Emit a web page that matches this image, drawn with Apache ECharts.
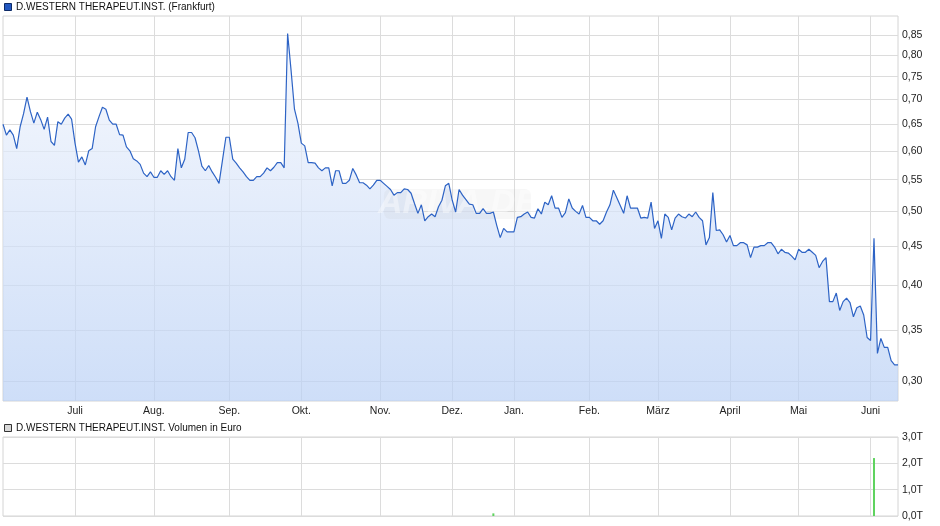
<!DOCTYPE html>
<html>
<head>
<meta charset="utf-8">
<script src="https://cdn.jsdelivr.net/npm/echarts@6/dist/echarts.min.js"></script>
<style>
html,body{margin:0;padding:0;background:#fff;}
#chart{width:940px;height:526px;}
</style>
</head>
<body>
<div id="chart"></div>
<script>
// ---- data ----
const startDate = '2024-05-31';
const endDate = '2025-06-12';
const exchangeHolidays = ['2024-12-24','2024-12-25','2024-12-26','2024-12-31','2025-01-01','2025-04-18','2025-04-21','2025-05-01'];
const monthNames = ['Jan.','Feb.','März','April','Mai','Juni','Juli','Aug.','Sep.','Okt.','Nov.','Dez.'];
const priceTicks = [0.30,0.35,0.40,0.45,0.50,0.55,0.60,0.65,0.70,0.75,0.80,0.85];
const volumeTicks = [0,1000,2000,3000];
const priceValues = [
0.650,0.629,0.639,0.629,0.604,0.645,0.671,0.705,0.675,0.652,
0.674,0.659,0.640,0.664,0.617,0.610,0.655,0.650,0.662,0.670,
0.660,0.614,0.580,0.589,0.575,0.600,0.604,0.645,0.665,0.684,
0.680,0.658,0.650,0.650,0.630,0.629,0.607,0.600,0.586,0.582,
0.576,0.561,0.555,0.563,0.554,0.554,0.565,0.559,0.565,0.555,
0.549,0.604,0.570,0.585,0.634,0.634,0.624,0.600,0.573,0.565,
0.574,0.563,0.554,0.544,0.583,0.625,0.625,0.585,0.578,0.570,
0.563,0.555,0.549,0.549,0.555,0.555,0.561,0.570,0.565,0.571,
0.579,0.579,0.570,0.854,0.765,0.680,0.652,0.614,0.609,0.579,
0.579,0.578,0.570,0.565,0.570,0.570,0.540,0.565,0.565,0.544,
0.544,0.549,0.569,0.558,0.545,0.545,0.541,0.535,0.541,0.549,
0.549,0.544,0.539,0.534,0.525,0.529,0.529,0.535,0.534,0.528,
0.512,0.497,0.510,0.486,0.492,0.496,0.492,0.507,0.517,0.540,
0.544,0.517,0.499,0.534,0.525,0.518,0.511,0.510,0.497,0.497,
0.504,0.497,0.497,0.499,0.479,0.462,0.475,0.470,0.470,0.470,
0.491,0.492,0.496,0.499,0.491,0.490,0.504,0.496,0.514,0.510,
0.524,0.505,0.505,0.491,0.498,0.519,0.505,0.500,0.496,0.509,
0.491,0.491,0.486,0.486,0.481,0.486,0.499,0.510,0.533,0.521,
0.509,0.497,0.524,0.505,0.505,0.505,0.490,0.491,0.490,0.514,
0.475,0.486,0.461,0.496,0.491,0.473,0.490,0.496,0.492,0.490,
0.496,0.492,0.499,0.491,0.486,0.452,0.462,0.529,0.472,0.473,
0.466,0.456,0.465,0.451,0.451,0.455,0.455,0.452,0.435,0.449,
0.449,0.451,0.451,0.455,0.455,0.449,0.440,0.446,0.442,0.441,
0.437,0.432,0.446,0.442,0.442,0.446,0.442,0.438,0.422,0.430,
0.435,0.381,0.381,0.391,0.371,0.381,0.385,0.380,0.364,0.374,
0.376,0.366,0.342,0.339,0.461,0.326,0.341,0.332,0.332,0.319,
0.315,0.315
];
const volumeDates = ['2024-12-18','2025-06-03'];
const volumeValues = [100, 2200];

// ---- build trading-day categories ----
function tradingDays(start, end, holidays) {
  const out = [];
  let t = Date.parse(start + 'T00:00:00Z');
  const e = Date.parse(end + 'T00:00:00Z');
  while (t <= e) {
    const d = new Date(t);
    const wd = d.getUTCDay();
    const s = d.toISOString().slice(0, 10);
    if (wd !== 0 && wd !== 6 && holidays.indexOf(s) < 0) out.push(s);
    t += 86400000;
  }
  return out;
}
const categories = tradingDays(startDate, endDate, exchangeHolidays);
const monthOf = s => +s.slice(5, 7);
const isMonthStart = (i) => i > 5 && monthOf(categories[i]) !== monthOf(categories[i - 1]);

const FONT = "'Liberation Sans', Arial, sans-serif";
const GRID_COLOR = '#dcdcdc';

const chart = echarts.init(document.getElementById('chart'), null, {renderer: 'canvas'});
chart.setOption({
  animation: false,
  backgroundColor: '#ffffff',
  textStyle: {fontFamily: FONT},
  grid: [
    {left: 3, top: 16, width: 895, height: 385, show: true, borderColor: '#d4d4d4', borderWidth: 1, containLabel: false},
    {left: 3, top: 437, width: 895, height: 79, show: true, borderColor: '#d4d4d4', borderWidth: 1, containLabel: false}
  ],
  xAxis: [
    {
      type: 'category', gridIndex: 0, data: categories, boundaryGap: false,
      axisLine: {show: false}, axisTick: {show: false},
      axisLabel: {
        interval: (i) => isMonthStart(i),
        formatter: (v) => monthNames[monthOf(v) - 1],
        color: '#222', fontSize: 10.5, fontFamily: FONT, margin: 5
      },
      splitLine: {show: true, interval: (i) => isMonthStart(i), lineStyle: {color: GRID_COLOR, width: 1}}
    },
    {
      type: 'category', gridIndex: 1, data: categories, boundaryGap: false,
      axisLine: {show: false}, axisTick: {show: false}, axisLabel: {show: false},
      splitLine: {show: true, interval: (i) => isMonthStart(i), lineStyle: {color: GRID_COLOR, width: 1}}
    }
  ],
  yAxis: [
    {
      type: 'log', gridIndex: 0, position: 'right', min: 0.2825, max: 0.9003, logBase: 10,
      axisLine: {show: false},
      axisTick: {show: false, customValues: priceTicks},
      axisLabel: {
        customValues: priceTicks,
        formatter: (v) => v.toFixed(2).replace('.', ','),
        color: '#222', fontSize: 10.5, fontFamily: FONT, margin: 4
      },
      splitLine: {show: true, lineStyle: {color: GRID_COLOR, width: 1}}
    },
    {
      type: 'value', gridIndex: 1, position: 'right', min: 0, max: 3000, interval: 1000,
      axisLine: {show: false}, axisTick: {show: false},
      axisLabel: {
        formatter: (v) => (v / 1000).toFixed(1).replace('.', ',') + 'T',
        color: '#222', fontSize: 10.5, fontFamily: FONT, margin: 4
      },
      splitLine: {show: true, lineStyle: {color: GRID_COLOR, width: 1}}
    }
  ],
  graphic: [
    {type: 'rect', left: 4, top: 3, shape: {width: 7, height: 7}, style: {fill: '#2257c0', stroke: '#0d2a66', lineWidth: 1}, z: 10},
    {type: 'text', left: 16, top: 2, style: {text: 'D.WESTERN THERAPEUT.INST. (Frankfurt)', fill: '#111', font: '10px ' + FONT}, z: 10},
    {type: 'rect', left: 4, top: 424, shape: {width: 7, height: 7}, style: {fill: '#d8d8d8', stroke: '#333', lineWidth: 1}, z: 10},
    {type: 'text', left: 16, top: 423, style: {text: 'D.WESTERN THERAPEUT.INST. Volumen in Euro', fill: '#111', font: '10px ' + FONT}, z: 10},
    {type: 'group', left: 378, top: 187, z: 3, children: [
      {type: 'rect', shape: {x: 0, y: 0, width: 147, height: 30, r: 6}, style: {fill: 'rgba(190,190,190,0.13)'}, z: 3},
      {type: 'text', x: 74, y: 15, style: {text: 'ARIVA.DE', fill: 'rgba(255,255,255,0.4)', font: 'italic bold 34px ' + FONT, align: 'center', verticalAlign: 'middle'}, z: 3}
    ]}
  ],
  series: [
    {
      type: 'line', xAxisIndex: 0, yAxisIndex: 0, data: priceValues, z: 1,
      showSymbol: false, symbol: 'none',
      lineStyle: {width: 0},
      areaStyle: {origin: 'start', color: new echarts.graphic.LinearGradient(0, 0, 0, 1, [
        {offset: 0, color: '#f3f6fd'}, {offset: 1, color: '#b9d0f5'}
      ])}
    },
    {
      type: 'line', xAxisIndex: 0, yAxisIndex: 0, data: priceValues, z: 5,
      showSymbol: false, symbol: 'none',
      lineStyle: {width: 1.2, color: '#2d63c5'}
    },
    {
      type: 'bar', xAxisIndex: 1, yAxisIndex: 1, barWidth: 2, z: 5,
      itemStyle: {color: '#5fd35f'},
      data: volumeDates.map((d, i) => [d, volumeValues[i]])
    }
  ]
});
</script>
</body>
</html>
